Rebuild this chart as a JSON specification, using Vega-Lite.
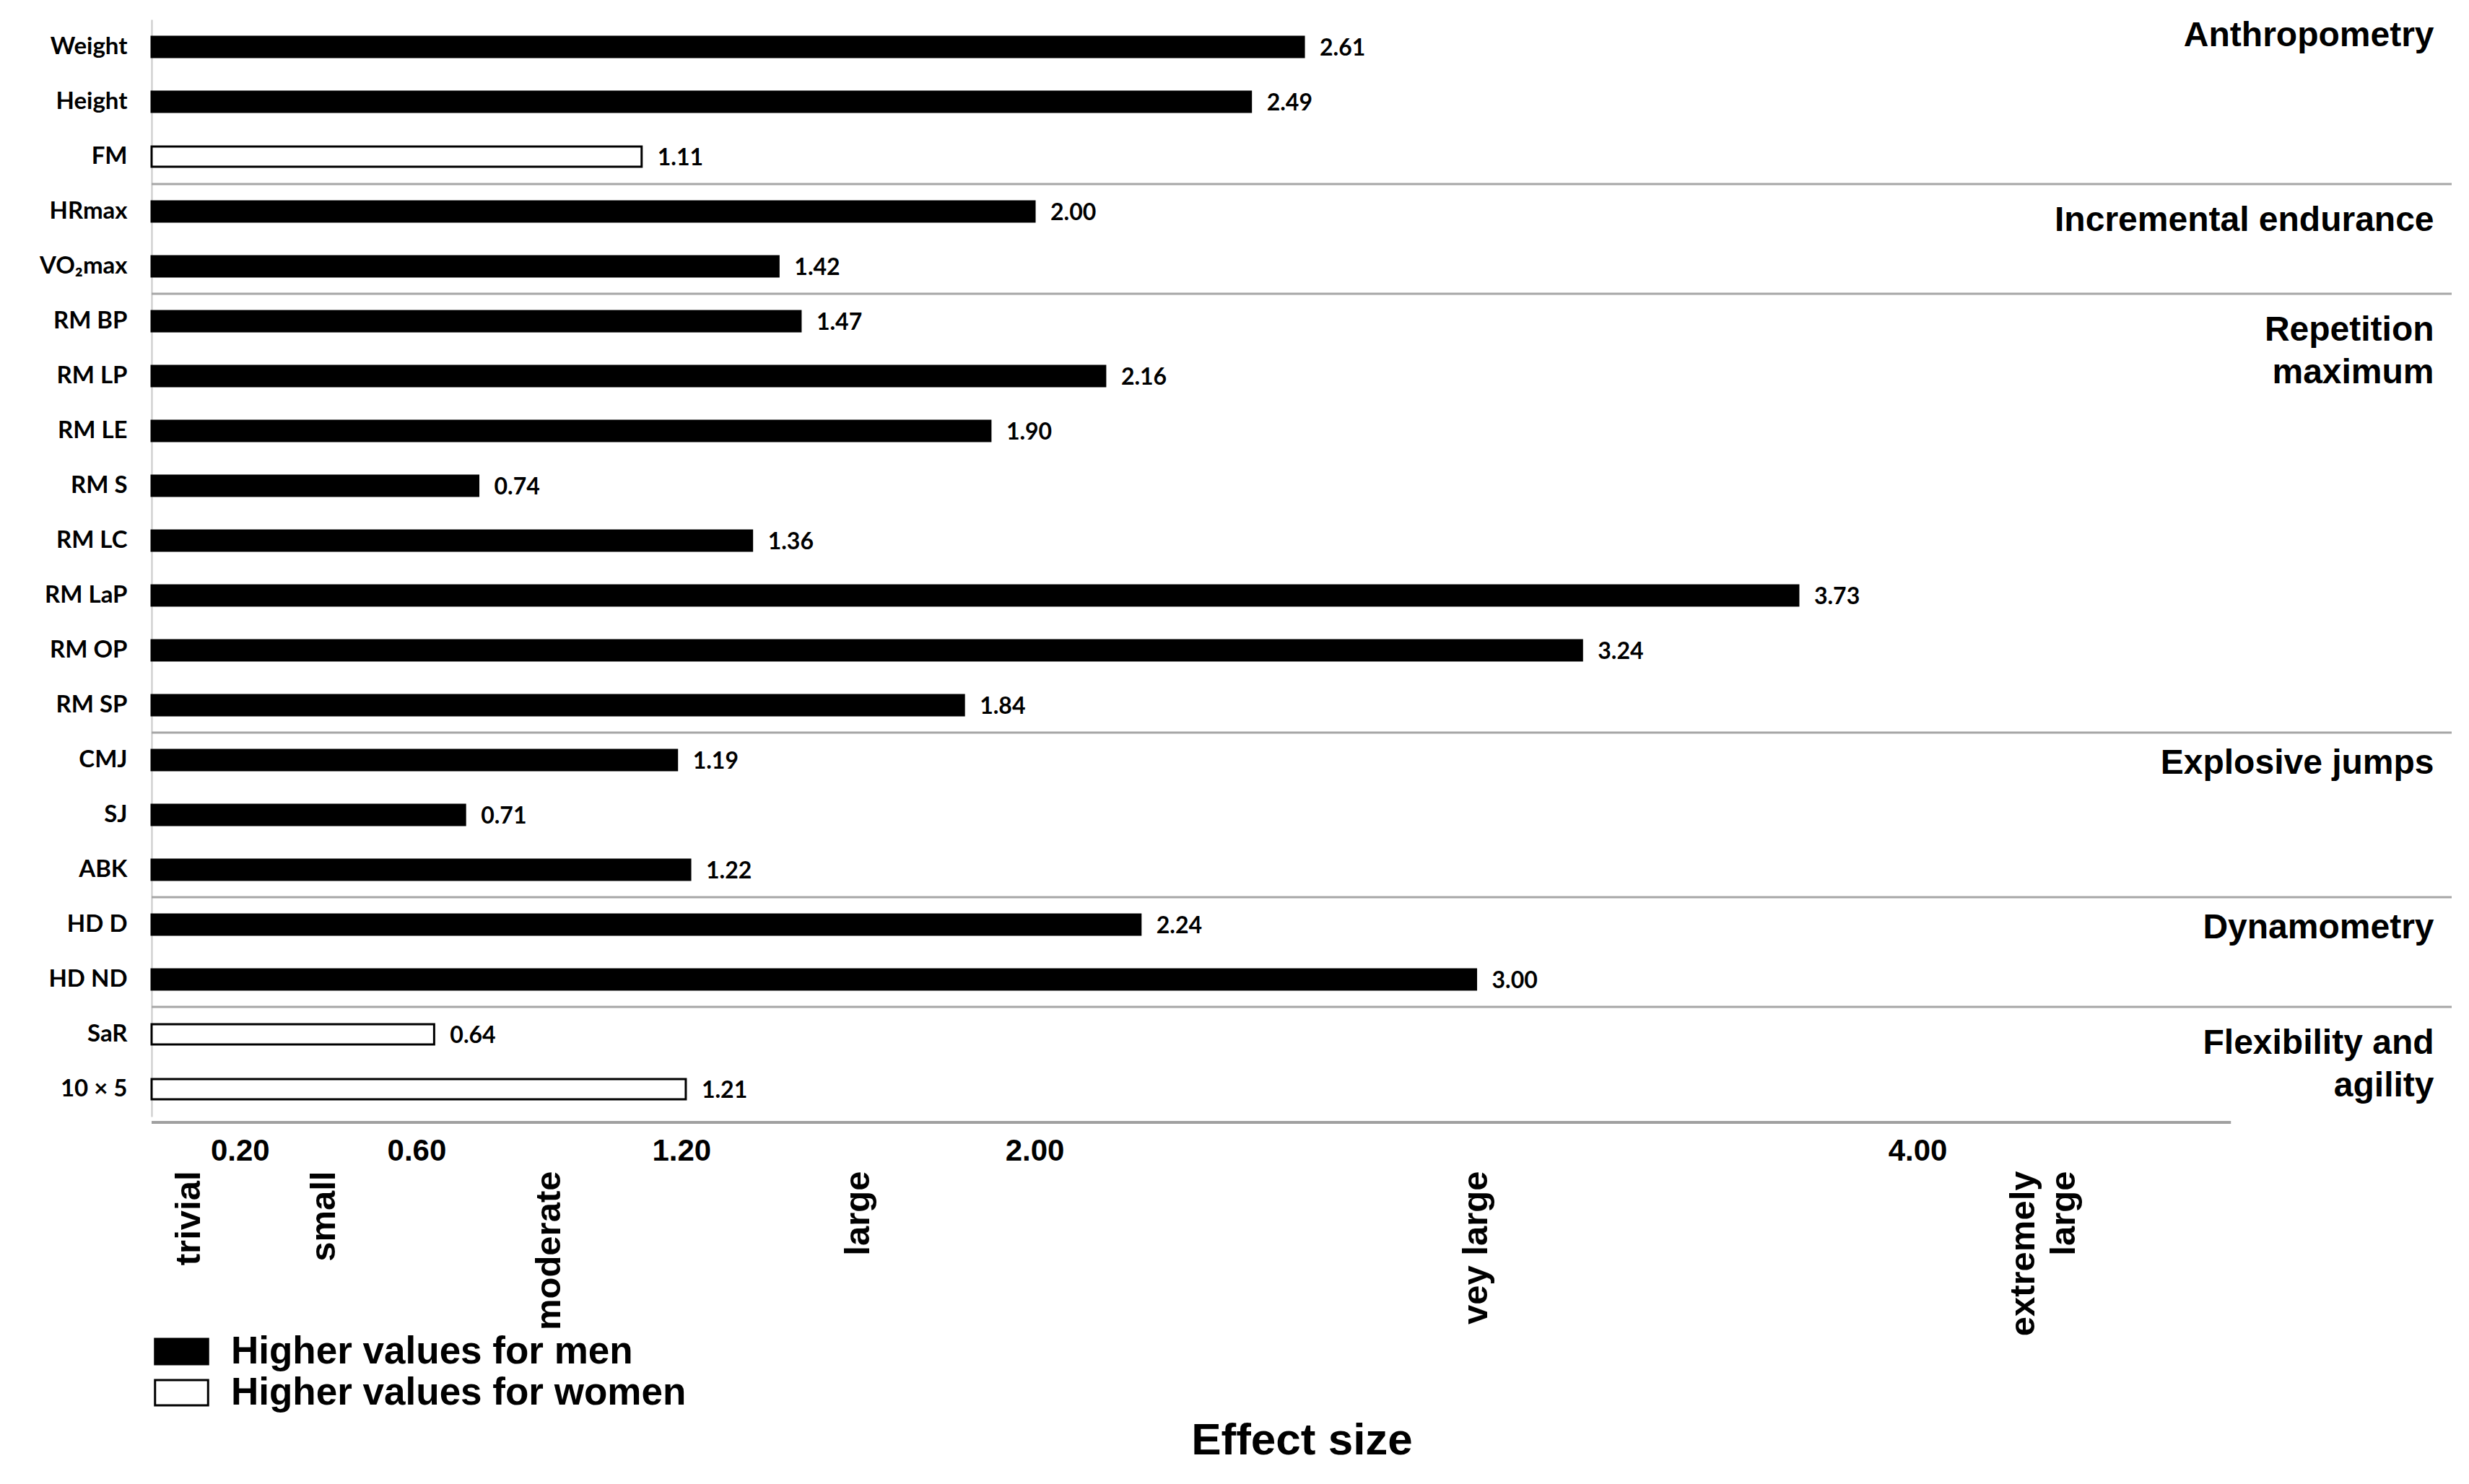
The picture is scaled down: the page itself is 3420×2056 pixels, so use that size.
{
  "$schema": "https://vega.github.io/schema/vega-lite/v6.json",
  "autosize": "none",
  "padding": {"left": 210, "top": 27, "right": 24, "bottom": 509},
  "width": 3186,
  "height": 1520,
  "background": "white",
  "config": {"view": {"stroke": null}},
  "datasets": {
    "bars": [
      {"item": "Weight", "value": 2.61, "sex": "Higher values for men"},
      {"item": "Height", "value": 2.49, "sex": "Higher values for men"},
      {"item": "FM", "value": 1.11, "sex": "Higher values for women"},
      {"item": "HRmax", "value": 2.00, "sex": "Higher values for men"},
      {"item": "VO₂max", "value": 1.42, "sex": "Higher values for men"},
      {"item": "RM BP", "value": 1.47, "sex": "Higher values for men"},
      {"item": "RM LP", "value": 2.16, "sex": "Higher values for men"},
      {"item": "RM LE", "value": 1.90, "sex": "Higher values for men"},
      {"item": "RM S", "value": 0.74, "sex": "Higher values for men"},
      {"item": "RM LC", "value": 1.36, "sex": "Higher values for men"},
      {"item": "RM LaP", "value": 3.73, "sex": "Higher values for men"},
      {"item": "RM OP", "value": 3.24, "sex": "Higher values for men"},
      {"item": "RM SP", "value": 1.84, "sex": "Higher values for men"},
      {"item": "CMJ", "value": 1.19, "sex": "Higher values for men"},
      {"item": "SJ", "value": 0.71, "sex": "Higher values for men"},
      {"item": "ABK", "value": 1.22, "sex": "Higher values for men"},
      {"item": "HD D", "value": 2.24, "sex": "Higher values for men"},
      {"item": "HD ND", "value": 3.00, "sex": "Higher values for men"},
      {"item": "SaR", "value": 0.64, "sex": "Higher values for women"},
      {"item": "10 × 5", "value": 1.21, "sex": "Higher values for women"}
    ],
    "seps": [{"item": "HRmax"}, {"item": "RM BP"}, {"item": "CMJ"}, {"item": "HD D"}, {"item": "SaR"}],
    "bottomrow": [{"item": "10 × 5"}],
    "groupsA": [
      {"item": "Weight", "label": "Anthropometry"}
    ],
    "groupsB": [
      {"item": "HRmax", "label": "Incremental endurance"},
      {"item": "RM BP", "label": "Repetition\nmaximum"},
      {"item": "SaR", "label": "Flexibility and\nagility"}
    ],
    "groupsC": [
      {"item": "CMJ", "label": "Explosive jumps"},
      {"item": "HD D", "label": "Dynamometry"}
    ]
  },
  "layer": [
    {
      "data": {"name": "bars"},
      "mark": {"type": "bar", "height": 28, "stroke": "black", "strokeWidth": 3},
      "encoding": {
        "y": {
          "field": "item", "type": "nominal",
          "scale": {
            "domain": ["Weight", "Height", "FM", "HRmax", "VO₂max", "RM BP", "RM LP", "RM LE", "RM S", "RM LC", "RM LaP", "RM OP", "RM SP", "CMJ", "SJ", "ABK", "HD D", "HD ND", "SaR", "10 × 5"],
            "paddingInner": 0, "paddingOuter": 0
          },
          "axis": {
            "title": null, "domain": true, "domainColor": "#c8c8c8", "domainWidth": 2,
            "ticks": false, "tickSize": 0, "grid": false, "labelPadding": 34,
            "labelFont": "Lato", "labelFontWeight": "bold", "labelFontSize": 33, "labelColor": "black"
          }
        },
        "x": {
          "field": "value", "type": "quantitative",
          "scale": {"domain": [0, 5.21], "nice": false, "zero": true},
          "axis": {
            "orient": "bottom", "values": [0.2, 0.6, 1.2, 2, 4], "format": ".2f",
            "domain": false, "ticks": false, "tickSize": 0, "grid": false,
            "labelFont": "Liberation Sans", "labelFontWeight": "bold", "labelFontSize": 42,
            "labelColor": "black", "labelPadding": 27, "labelFlush": false, "labelOverlap": false,
            "title": "Effect size", "titleFont": "Liberation Sans", "titleFontWeight": "bold",
            "titleFontSize": 62, "titleColor": "black", "titleY": 467, "titleBaseline": "alphabetic"
          }
        },
        "fill": {
          "field": "sex", "type": "nominal",
          "scale": {"domain": ["Higher values for men", "Higher values for women"], "range": ["black", "white"]},
          "legend": {
            "orient": "none", "legendX": 15, "legendY": 1819, "title": null,
            "symbolType": "M-2.1,-1H2.1V1H-2.1Z", "symbolSize": 1225,
            "symbolStrokeColor": "black", "symbolStrokeWidth": 3,
            "labelFont": "Liberation Sans", "labelFontWeight": "bold", "labelFontSize": 53,
            "labelColor": "black", "labelOffset": 42, "labelLimit": 0, "rowPadding": 3
          }
        }
      }
    },
    {
      "data": {"name": "seps"},
      "mark": {"type": "rule", "color": "#a6a6a6", "strokeWidth": 3},
      "encoding": {
        "y": {"field": "item", "type": "nominal", "bandPosition": 0},
        "x": {"datum": 0, "axis": null},
        "x2": {"datum": 5.21}
      }
    },
    {
      "data": {"name": "bottomrow"},
      "mark": {"type": "rule", "color": "#a0a0a0", "strokeWidth": 4, "yOffset": 8},
      "encoding": {
        "y": {"field": "item", "type": "nominal", "bandPosition": 1},
        "x": {"datum": 0, "axis": null},
        "x2": {"datum": 4.71}
      }
    },
    {
      "data": {"name": "bars"},
      "mark": {"type": "text", "align": "left", "baseline": "middle", "dx": 22, "dy": 2, "font": "Lato", "fontWeight": "bold", "fontSize": 32, "color": "black"},
      "encoding": {
        "y": {"field": "item", "type": "nominal"},
        "x": {
          "field": "value", "type": "quantitative",
          "axis": {
            "orient": "bottom", "values": [0.085, 0.39, 0.9, 1.6, 3.0, 4.24],
            "labelExpr": "datum.value < 0.2 ? 'trivial' : datum.value < 0.6 ? 'small' : datum.value < 1.2 ? 'moderate' : datum.value < 2 ? 'large' : datum.value < 4 ? 'vey large' : ['extremely', 'large']",
            "labelAngle": 270, "labelAlign": "right", "labelBaseline": "middle", "labelPadding": 75,
            "labelLineHeight": 56, "labelLimit": 0,
            "domain": false, "ticks": false, "tickSize": 0, "grid": false, "title": null,
            "labelFont": "Liberation Sans", "labelFontWeight": "bold", "labelFontSize": 49,
            "labelColor": "black", "labelOverlap": false, "labelFlush": false
          }
        },
        "text": {"field": "value", "type": "quantitative", "format": ".2f"}
      }
    },
    {
      "data": {"name": "groupsA"},
      "mark": {"type": "text", "align": "right", "baseline": "middle", "lineBreak": "\n", "lineHeight": 59, "font": "Liberation Sans", "fontWeight": "bold", "fontSize": 48, "color": "black"},
      "encoding": {
        "y": {"field": "item", "type": "nominal", "bandPosition": 0.3},
        "x": {"datum": 5.17, "axis": null},
        "text": {"field": "label"}
      }
    },
    {
      "data": {"name": "groupsB"},
      "mark": {"type": "text", "align": "right", "baseline": "middle", "lineBreak": "\n", "lineHeight": 59, "font": "Liberation Sans", "fontWeight": "bold", "fontSize": 48, "color": "black"},
      "encoding": {
        "y": {"field": "item", "type": "nominal", "bandPosition": 0.67},
        "x": {"datum": 5.17, "axis": null},
        "text": {"field": "label"}
      }
    },
    {
      "data": {"name": "groupsC"},
      "mark": {"type": "text", "align": "right", "baseline": "middle", "lineBreak": "\n", "lineHeight": 59, "font": "Liberation Sans", "fontWeight": "bold", "fontSize": 48, "color": "black"},
      "encoding": {
        "y": {"field": "item", "type": "nominal", "bandPosition": 0.57},
        "x": {"datum": 5.17, "axis": null},
        "text": {"field": "label"}
      }
    }
  ],
  "resolve": {"axis": {"x": "independent"}}
}
